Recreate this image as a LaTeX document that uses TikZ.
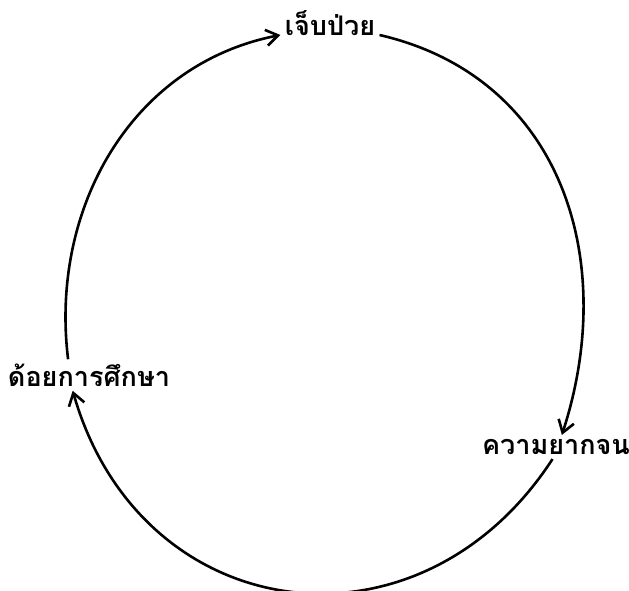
\documentclass[tikz,border=0pt]{standalone}
\usepackage{fontspec}
\newfontfamily\thaifont[Script=Thai]{Loma}
\usetikzlibrary{arrows.meta}

\tikzset{
  lbl/.style={font=\thaifont\fontsize{13.5}{16}\selectfont\bfseries, inner sep=2pt},
  cyc/.style={line width=1.3pt, -{Straight Barb[length=6pt,width=8pt]}},
}

\begin{document}
\begin{tikzpicture}[x=0.5pt, y=0.5pt]
\useasboundingbox (0,0) rectangle (629,591);
% labels round the cycle
\node[lbl, anchor=base] (sick) at (330,556) {เจ็บป่วย};
\node[lbl] (poor) at (556,144) {ความยากจน};
\node[lbl] (edu) at (89,216) {ด้อยการศึกษา};
% cycle arcs
\draw[cyc] (sick.base east) to[out=-13, in=72, looseness=1.08] (poor.64);
\draw[cyc] (poor.254) to[out=237, in=286, looseness=1.3] (edu.224);
\draw[cyc] (edu.143) to[out=97, in=191] (sick.base west);
\end{tikzpicture}
\end{document}
